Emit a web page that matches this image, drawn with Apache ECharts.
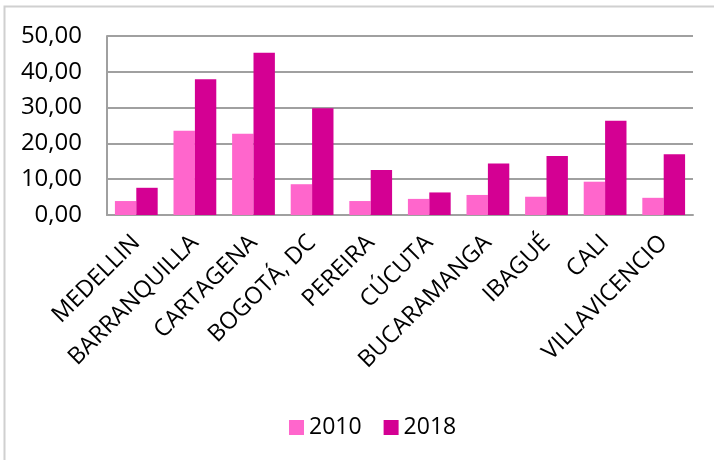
<!DOCTYPE html>
<html>
<head>
<meta charset="utf-8">
<script src="https://cdn.jsdelivr.net/npm/echarts@6/dist/echarts.min.js"></script>
<style>
  html, body { margin: 0; padding: 0; background: #fff; }
  #chart { width: 714px; height: 460px; }
</style>
</head>
<body>
<div id="chart"></div>
<script>
// cities and values
var ciudades = ['MEDELLIN', 'BARRANQUILLA', 'CARTAGENA', 'BOGOTÁ, DC', 'PEREIRA',
  'CÚCUTA', 'BUCARAMANGA', 'IBAGUÉ', 'CALI', 'VILLAVICENCIO'];
var valores2010 = [3.9, 23.5, 22.7, 8.6, 3.9, 4.5, 5.6, 5.1, 9.3, 4.8];
var valores2018 = [7.6, 37.9, 45.3, 29.8, 12.6, 6.3, 14.4, 16.5, 26.3, 17.0];
var anios = ['2010', '2018'];

var fuente = '"Open Sans", "Noto Sans", sans-serif';
var chart = echarts.init(document.getElementById('chart'));

chart.setOption({
  animation: false,
  backgroundColor: '#fff',
  color: ['#FF66CC', '#D40093'],
  grid: { left: 107, right: 21, top: 36, bottom: 245 },
  legend: {
    data: anios,
    top: 411,
    left: 284,
    itemWidth: 15,
    itemHeight: 15,
    itemGap: 22,
    itemTextGap: 7,
    icon: 'rect',
    textStyle: { fontFamily: fuente, fontSize: 23, color: '#000' }
  },
  xAxis: {
    type: 'category',
    data: ciudades,
    axisLine: { lineStyle: { color: '#a0a0a0', width: 2 } },
    axisTick: { show: false },
    axisLabel: {
      rotate: 45,
      interval: 0,
      margin: 24,
      fontFamily: fuente,
      fontSize: 23.5,
      color: '#000'
    }
  },
  yAxis: {
    type: 'value',
    min: 0,
    max: 50,
    interval: 10,
    axisLine: { show: true, lineStyle: { color: '#a0a0a0', width: 2 } },
    axisTick: { show: false },
    splitLine: { lineStyle: { color: '#a0a0a0', width: 2 } },
    axisLabel: {
      margin: 25,
      fontFamily: fuente,
      fontSize: 24,
      color: '#000',
      formatter: function (v) { return v.toFixed(2).replace('.', ','); }
    }
  },
  series: [
    { name: anios[0], type: 'bar', data: valores2010, barGap: '0%', barCategoryGap: '27%' },
    { name: anios[1], type: 'bar', data: valores2018, barGap: '0%', barCategoryGap: '27%' }
  ],
  graphic: [
    {
      type: 'polyline',
      shape: { points: [[4.5, 460], [4.5, 6.5], [714, 6.5]] },
      style: { stroke: '#d0d0d0', lineWidth: 2, fill: null }
    }
  ]
});
</script>
</body>
</html>
